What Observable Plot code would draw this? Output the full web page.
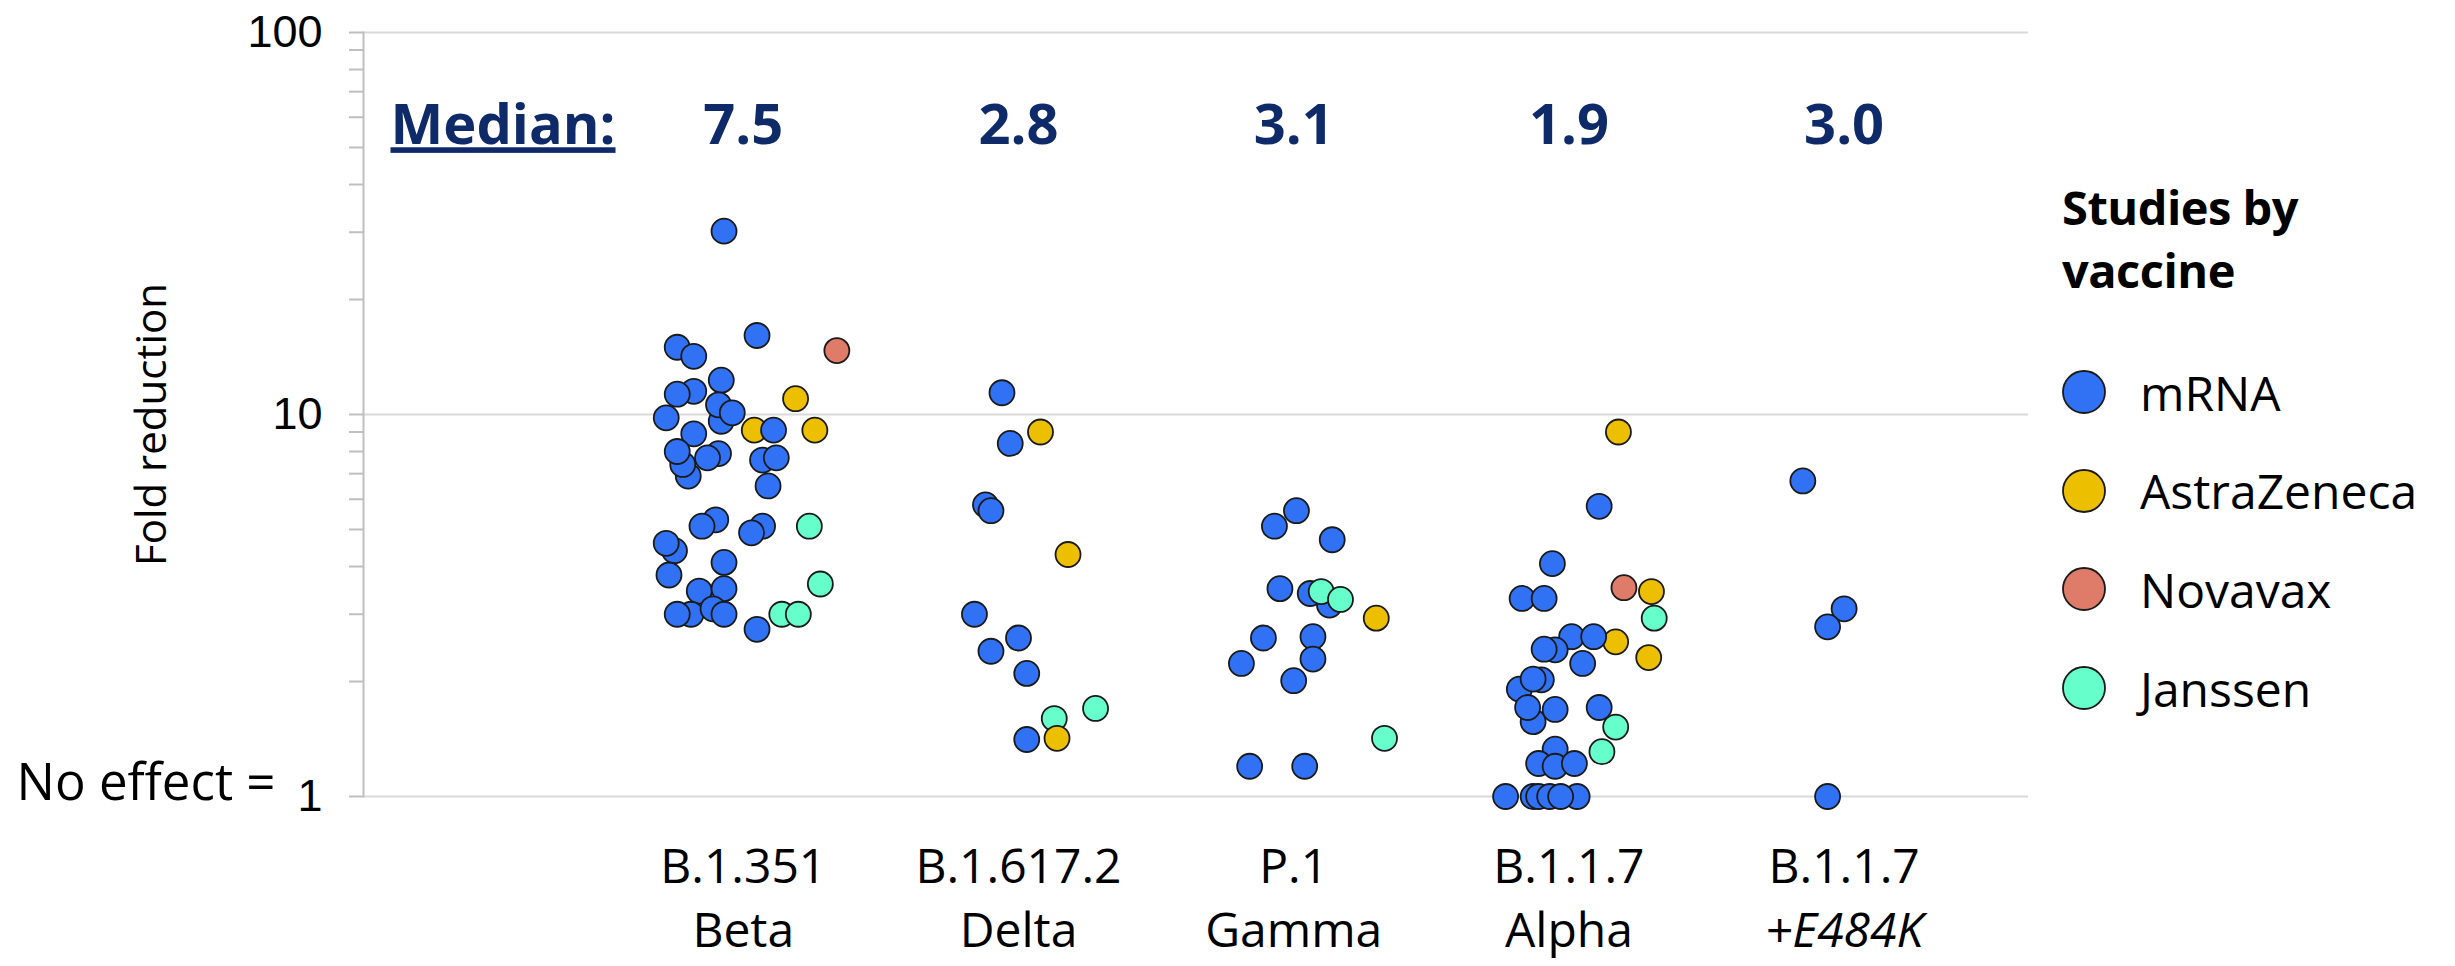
<!DOCTYPE html>
<html><head><meta charset="utf-8">
<script src="https://cdn.jsdelivr.net/npm/d3@7"></script>
<script src="https://cdn.jsdelivr.net/npm/@observablehq/plot@0.6"></script>
<style>
body{margin:0;background:#fff;overflow:hidden;}
#wrap{position:relative;width:2455px;height:966px;background:#fff;}
#legend{position:absolute;left:0;top:0;font-family:"Open Sans",sans-serif;color:#000;}
#legend .title{position:absolute;left:2062px;top:176px;font-size:47px;font-weight:700;line-height:63px;white-space:nowrap;letter-spacing:-0.5px;}
#legend .item{position:absolute;left:2062px;height:44px;display:flex;align-items:center;white-space:nowrap;font-size:48px;}
#legend .item svg{margin-right:34px;flex:none;}
</style></head><body>
<div id="wrap"><div id="legend"></div></div>
<script>
// Categories (x axis, two lines each) and median fold reductions
const variants = ["B.1.351", "B.1.617.2", "P.1", "B.1.1.7", "B.1.1.7"];
const variantNames = ["Beta", "Delta", "Gamma", "Alpha", "+E484K"];
const medians = [7.5, 2.8, 3.1, 1.9, 3.0];

// Vaccine series
const vaccines = ["mRNA", "AstraZeneca", "Novavax", "Janssen"];
const vaccineColors = ["#3172f5", "#ecc000", "#de7b69", "#66ffcc"];

// Y axis ticks
const yLabelTicks = [1, 10, 100];
const yMinorTicks = [2, 3, 4, 5, 6, 7, 8, 9, 20, 30, 40, 50, 60, 70, 80, 90];

// Studies: [vaccine, fold reduction, horizontal jitter within the category]
const beta = [
  ["mRNA", 30.2, -0.07], ["mRNA", 16.1, 0.05], ["Novavax", 14.7, 0.34], ["mRNA", 15.0, -0.24],
  ["mRNA", 14.2, -0.18], ["mRNA", 12.3, -0.08], ["mRNA", 11.5, -0.18], ["mRNA", 11.3, -0.24],
  ["AstraZeneca", 11.0, 0.19], ["mRNA", 9.6, -0.08], ["mRNA", 10.6, -0.09], ["mRNA", 10.1, -0.04],
  ["mRNA", 9.8, -0.28], ["AstraZeneca", 9.1, 0.04], ["mRNA", 9.1, 0.11], ["AstraZeneca", 9.1, 0.26],
  ["mRNA", 8.9, -0.18], ["mRNA", 6.9, -0.20], ["mRNA", 7.4, -0.22], ["mRNA", 8.0, -0.24],
  ["mRNA", 7.9, -0.09], ["mRNA", 7.7, -0.13], ["mRNA", 7.6, 0.07], ["mRNA", 7.7, 0.12],
  ["mRNA", 6.5, 0.09], ["mRNA", 5.3, -0.10], ["mRNA", 5.1, -0.15], ["mRNA", 5.1, 0.07],
  ["mRNA", 4.9, 0.03], ["Janssen", 5.1, 0.24], ["mRNA", 4.4, -0.25], ["mRNA", 4.6, -0.28],
  ["mRNA", 4.1, -0.07], ["mRNA", 3.8, -0.27], ["Janssen", 3.6, 0.28], ["mRNA", 3.45, -0.16],
  ["mRNA", 3.5, -0.07], ["mRNA", 3.0, -0.19], ["mRNA", 3.0, -0.24], ["mRNA", 3.1, -0.11],
  ["mRNA", 3.0, -0.07], ["Janssen", 3.0, 0.14], ["Janssen", 3.0, 0.20], ["mRNA", 2.74, 0.05]
];
const delta = [
  ["mRNA", 11.4, -0.06], ["AstraZeneca", 9.0, 0.08], ["mRNA", 8.4, -0.03], ["mRNA", 5.8, -0.12],
  ["mRNA", 5.6, -0.10], ["AstraZeneca", 4.3, 0.18], ["mRNA", 3.0, -0.16], ["mRNA", 2.6, 0.00],
  ["mRNA", 2.4, -0.10], ["mRNA", 2.1, 0.03], ["Janssen", 1.7, 0.28], ["Janssen", 1.6, 0.13],
  ["mRNA", 1.41, 0.03], ["AstraZeneca", 1.42, 0.14]
];
const gamma = [
  ["mRNA", 5.6, 0.01], ["mRNA", 5.1, -0.07], ["mRNA", 4.7, 0.14], ["mRNA", 3.5, -0.05],
  ["mRNA", 3.17, 0.13], ["mRNA", 3.4, 0.06], ["Janssen", 3.44, 0.10], ["Janssen", 3.28, 0.17],
  ["AstraZeneca", 2.93, 0.30], ["mRNA", 2.6, -0.11], ["mRNA", 2.62, 0.07], ["mRNA", 2.23, -0.19],
  ["mRNA", 2.29, 0.07], ["mRNA", 2.01, 0.00], ["Janssen", 1.42, 0.33], ["mRNA", 1.2, -0.16],
  ["mRNA", 1.2, 0.04]
];
const alpha = [
  ["AstraZeneca", 9.0, 0.18], ["mRNA", 5.75, 0.11], ["mRNA", 4.07, -0.06], ["Novavax", 3.52, 0.20],
  ["AstraZeneca", 3.44, 0.30], ["mRNA", 3.3, -0.17], ["mRNA", 3.3, -0.09], ["Janssen", 2.93, 0.31],
  ["AstraZeneca", 2.54, 0.17], ["mRNA", 2.62, 0.01], ["mRNA", 2.62, 0.09], ["mRNA", 2.42, -0.05],
  ["mRNA", 2.43, -0.09], ["mRNA", 2.23, 0.05], ["AstraZeneca", 2.31, 0.29], ["mRNA", 2.02, -0.10],
  ["mRNA", 1.91, -0.18], ["mRNA", 2.03, -0.13], ["mRNA", 1.57, -0.13], ["mRNA", 1.71, -0.15],
  ["mRNA", 1.69, -0.05], ["mRNA", 1.71, 0.11], ["Janssen", 1.52, 0.17], ["Janssen", 1.31, 0.12],
  ["mRNA", 1.33, -0.05], ["mRNA", 1.22, -0.11], ["mRNA", 1.2, -0.05], ["mRNA", 1.22, 0.02],
  ["mRNA", 1.0, -0.23], ["mRNA", 1.0, -0.13], ["mRNA", 1.0, -0.11], ["mRNA", 1.0, -0.07],
  ["mRNA", 1.0, 0.03], ["mRNA", 1.0, -0.03]
];
const alphaE484K = [
  ["mRNA", 6.7, -0.15], ["mRNA", 3.1, 0.00], ["mRNA", 2.78, -0.06], ["mRNA", 1.0, -0.06]
];

const groups = [beta, delta, gamma, alpha, alphaE484K];
const studies = groups.flatMap((g, ci) => g.map(([vaccine, fold, jitter]) => ({cat: ci, vaccine, fold, jitter})));

const navy = "#0f2a68";
const plot = Plot.plot({
  width: 2455,
  height: 966,
  marginLeft: 363,
  marginRight: 427,
  marginTop: 32,
  marginBottom: 170,
  style: {fontFamily: "'Open Sans', sans-serif", background: "white", color: "black", overflow: "visible"},
  x: {type: "linear", domain: [-1.38, 4.67], axis: null},
  y: {type: "log", domain: [1, 100], axis: null},
  color: {domain: vaccines, range: vaccineColors},
  marks: [
    Plot.gridY(yLabelTicks, {stroke: "#d9d9d9", strokeOpacity: 1, strokeWidth: 2}),
    Plot.axisY(yMinorTicks.concat(yLabelTicks), {tickSize: 14, stroke: "#bfbfbf", strokeWidth: 2, tickFormat: () => "", label: null}),
    Plot.axisY(yLabelTicks, {tickSize: 0, tickPadding: 41, tickFormat: d => String(d), fontSize: 45, fontFamily: "'Liberation Sans', Arial, sans-serif", label: null}),
    Plot.frame({anchor: "left", stroke: "#bfbfbf", strokeWidth: 2}),
    Plot.text(["Fold reduction"], {frameAnchor: "left", textAnchor: "middle", rotate: -90, dx: -211, dy: 10, fontSize: 42}),
    Plot.text(["No effect ="], {frameAnchor: "bottom-left", textAnchor: "end", dx: -88, dy: 3, fontSize: 51}),
    Plot.text(["Median:"], {frameAnchor: "top-left", textAnchor: "start", dx: 27, dy: 72, fontSize: 56, fontWeight: 700, fill: navy}),
    Plot.text(medians, {x: (d, i) => i, frameAnchor: "top", dy: 72, text: d => d.toFixed(1), fontSize: 56, fontWeight: 700, fill: navy}),
    Plot.text(variants, {x: (d, i) => i, frameAnchor: "bottom", dy: 86, fontSize: 48}),
    Plot.text(variantNames, {x: (d, i) => i, frameAnchor: "bottom", dy: 150, fontSize: 48}),
    Plot.dot(studies, {x: d => d.cat + d.jitter, y: "fold", fill: "vaccine", r: 12.5, stroke: "#1a1a1a", strokeWidth: 1.8})
  ]
});

// Underline "Median:" and italicise the "+E484K" label
d3.select(plot).selectAll("text").each(function () {
  const t = this.textContent;
  if (t === "Median:") this.style.textDecoration = "underline";
  if (t.startsWith("+")) this.style.fontStyle = "italic";
});

const wrap = document.getElementById("wrap");
wrap.insertBefore(plot, wrap.firstChild);
plot.style.position = "absolute";
plot.style.left = "0";
plot.style.top = "0";

// Legend
const legend = document.getElementById("legend");
const title = document.createElement("div");
title.className = "title";
title.innerHTML = "Studies by<br>vaccine";
legend.appendChild(title);
vaccines.forEach((v, i) => {
  const item = document.createElement("div");
  item.className = "item";
  item.style.top = (370 + i * 98.7) + "px";
  item.innerHTML = `<svg width="44" height="44"><circle cx="22" cy="22" r="21" fill="${vaccineColors[i]}" stroke="#1a1a1a" stroke-width="1.8"/></svg><span>${v}</span>`;
  legend.appendChild(item);
});
</script>
</body></html>
